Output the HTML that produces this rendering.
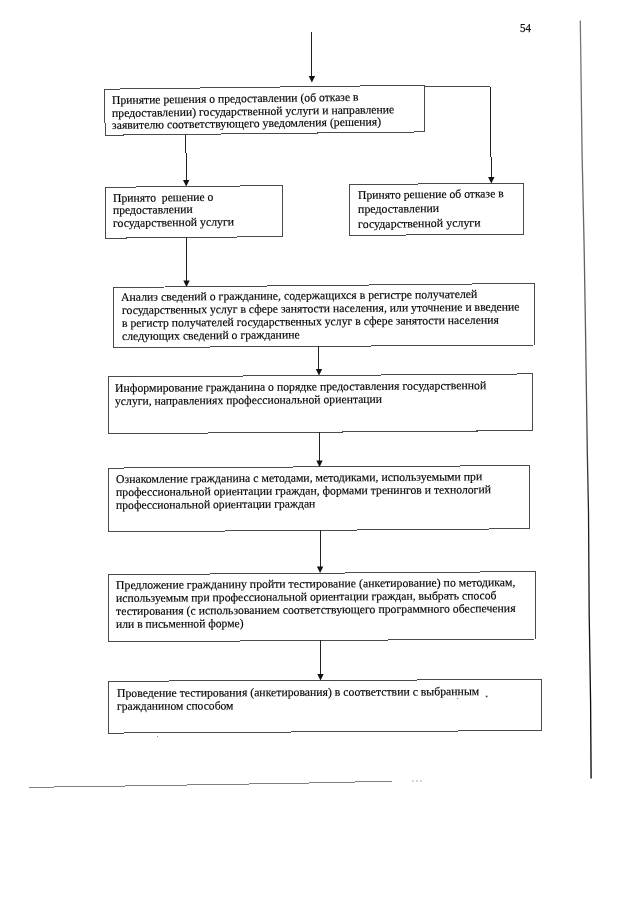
<!DOCTYPE html>
<html><head><meta charset="utf-8"><style>
html,body{margin:0;padding:0;background:#fff;}
body{width:640px;height:905px;position:relative;overflow:hidden;}
#w{position:absolute;left:0;top:0;width:640px;height:905px;filter:grayscale(1);}
.t{position:absolute;font-family:"Liberation Serif",serif;font-size:11.75px;line-height:0;white-space:pre;color:#000;-webkit-text-stroke:0.15px #000;transform-origin:0 0;transform:rotate(-0.8deg);}
.t::before{content:"";}
.pn{position:absolute;font-family:"Liberation Serif",serif;font-size:11.8px;line-height:0;left:520px;top:27.9px;color:#111;-webkit-text-stroke:0.25px #111;transform:scaleX(0.93);transform-origin:0 0;}
svg{position:absolute;left:0;top:0;}
</style></head><body>
<div id="w">
<svg width="640" height="905" viewBox="0 0 640 905">
<polygon points="104.5,89.2 424.6,85.2 424.6,131.9 105.2,135.2" fill="none" stroke="#4a4a4a" stroke-width="1" shape-rendering="crispEdges"/>
<polygon points="105.6,187.3 282.8,185.6 282.8,236.6 105.5,238.2" fill="none" stroke="#4a4a4a" stroke-width="1" shape-rendering="crispEdges"/>
<polygon points="349.8,184.6 523.1,183.1 523.1,234.4 349.8,235.3" fill="none" stroke="#4a4a4a" stroke-width="1" shape-rendering="crispEdges"/>
<polygon points="113.75,287.5 534.6,283.4 534.6,345 113.75,347.6" fill="none" stroke="#4a4a4a" stroke-width="1" shape-rendering="crispEdges"/>
<polygon points="108.1,377 532.3,373.9 532.3,430.6 108.1,433.75" fill="none" stroke="#4a4a4a" stroke-width="1" shape-rendering="crispEdges"/>
<polygon points="108.4,468.1 529.6,465.6 529.6,528.7 108.4,531.9" fill="none" stroke="#4a4a4a" stroke-width="1" shape-rendering="crispEdges"/>
<polygon points="108.75,574.75 535.6,571.6 535.6,639 108.75,641.9" fill="none" stroke="#4a4a4a" stroke-width="1" shape-rendering="crispEdges"/>
<polygon points="108.75,681.25 541.6,679.5 541.6,730.5 108.75,733.1" fill="none" stroke="#4a4a4a" stroke-width="1" shape-rendering="crispEdges"/>
<polyline points="424.6,87 490.1,86.6" fill="none" stroke="#4a4a4a" stroke-width="1" shape-rendering="crispEdges"/>
<line x1="311.7" y1="32" x2="311.9" y2="77.5" stroke="#222" stroke-width="1" shape-rendering="crispEdges"/>
<polygon points="308.7,76.0 315.09999999999997,76.0 311.9,82.5" fill="#111"/>
<line x1="185.9" y1="135" x2="186.2" y2="181.4" stroke="#222" stroke-width="1" shape-rendering="crispEdges"/>
<polygon points="183.0,179.9 189.39999999999998,179.9 186.2,186.4" fill="#111"/>
<line x1="186.4" y1="237" x2="186.5" y2="282" stroke="#222" stroke-width="1" shape-rendering="crispEdges"/>
<polygon points="183.3,280.5 189.7,280.5 186.5,287" fill="#111"/>
<line x1="318.9" y1="346" x2="319.0" y2="370.5" stroke="#222" stroke-width="1" shape-rendering="crispEdges"/>
<polygon points="315.8,369.0 322.2,369.0 319.0,375.5" fill="#111"/>
<line x1="319.4" y1="432" x2="319.5" y2="462" stroke="#222" stroke-width="1" shape-rendering="crispEdges"/>
<polygon points="316.3,460.5 322.7,460.5 319.5,467" fill="#111"/>
<line x1="320.0" y1="530.5" x2="320.1" y2="568" stroke="#222" stroke-width="1" shape-rendering="crispEdges"/>
<polygon points="316.90000000000003,566.5 323.3,566.5 320.1,573" fill="#111"/>
<line x1="320.4" y1="640.5" x2="320.5" y2="675.5" stroke="#222" stroke-width="1" shape-rendering="crispEdges"/>
<polygon points="317.3,674.0 323.7,674.0 320.5,680.5" fill="#111"/>
<line x1="490.1" y1="86.6" x2="491.3" y2="178.5" stroke="#222" stroke-width="1" shape-rendering="crispEdges"/>
<polygon points="488.1,177.0 494.5,177.0 491.3,183.5" fill="#111"/>
<defs><linearGradient id="rg" x1="0" y1="0" x2="0" y2="1"><stop offset="0" stop-color="#777"/><stop offset="0.5" stop-color="#555"/><stop offset="0.65" stop-color="#222"/><stop offset="1" stop-color="#000"/></linearGradient></defs>
<polyline points="580.3,20.6 582.1,155 584.1,245 585.5,330 587.35,455 588.5,512 589.2,615 590.6,702 591.1,778.4" fill="none" stroke="url(#rg)" stroke-width="1.3"/>
<polyline points="29,787.3 88,786.6 200,784.8 300,783.2 392,781.2" fill="none" stroke="#808080" stroke-width="1" shape-rendering="crispEdges"/>
<line x1="412" y1="781" x2="423" y2="781" stroke="#aaa" stroke-width="1" stroke-dasharray="2,2"/>
<circle cx="486.6" cy="696.4" r="0.9" fill="#333"/>
<circle cx="157.5" cy="736.5" r="0.6" fill="#777"/>
<circle cx="457.7" cy="698.6" r="0.6" fill="#666"/>
</svg>
<div class="pn">54</div>
<div class="t" style="left:112.00px;top:100.80px;transform:rotate(-0.75deg) scaleX(0.99)">Принятие решения о предоставлении (об отказе в</div>
<div class="t" style="left:112.00px;top:113.50px;transform:rotate(-0.75deg) scaleX(0.9972)">предоставлении) государственной услуги и направление</div>
<div class="t" style="left:112.00px;top:126.20px;transform:rotate(-0.75deg) scaleX(0.9989)">заявителю соответствующего уведомления (решения)</div>
<div class="t" style="left:113.00px;top:198.50px;transform:rotate(-0.7deg) scaleX(0.9941)">Принято  решение о</div>
<div class="t" style="left:113.00px;top:211.10px;transform:rotate(-0.7deg) scaleX(0.99)">предоставлении</div>
<div class="t" style="left:113.00px;top:223.70px;transform:rotate(-0.7deg) scaleX(1.0042)">государственной услуги</div>
<div class="t" style="left:358.00px;top:195.80px;transform:rotate(-0.7deg) scaleX(0.9915)">Принято решение об отказе в</div>
<div class="t" style="left:358.00px;top:210.40px;transform:rotate(-0.7deg) scaleX(1.0094)">предоставлении</div>
<div class="t" style="left:358.00px;top:225.00px;transform:rotate(-0.7deg) scaleX(1.0167)">государственной услуги</div>
<div class="t" style="left:120.80px;top:297.80px;transform:rotate(-0.5deg) scaleX(1.002)">Анализ сведений о гражданине, содержащихся в регистре получателей</div>
<div class="t" style="left:121.80px;top:310.90px;transform:rotate(-0.5deg) scaleX(0.996)">государственных услуг в сфере занятости населения, или уточнение и введение</div>
<div class="t" style="left:121.80px;top:324.00px;transform:rotate(-0.5deg) scaleX(0.9963)">в регистр получателей государственных услуг в сфере занятости населения</div>
<div class="t" style="left:121.80px;top:337.10px;transform:rotate(-0.5deg) scaleX(0.9992)">следующих сведений о гражданине</div>
<div class="t" style="left:115.20px;top:388.70px;transform:rotate(-0.45deg) scaleX(1.0004)">Информирование гражданина о порядке предоставления государственной</div>
<div class="t" style="left:115.20px;top:401.50px;transform:rotate(-0.45deg) scaleX(0.994)">услуги, направлениях профессиональной ориентации</div>
<div class="t" style="left:116.00px;top:480.00px;transform:rotate(-0.42deg) scaleX(1.0027)">Ознакомление гражданина с методами, методиками, используемыми при</div>
<div class="t" style="left:116.00px;top:492.80px;transform:rotate(-0.42deg) scaleX(0.9967)">профессиональной ориентации граждан, формами тренингов и технологий</div>
<div class="t" style="left:116.00px;top:505.60px;transform:rotate(-0.42deg) scaleX(0.99)">профессиональной ориентации граждан</div>
<div class="t" style="left:116.00px;top:586.00px;transform:rotate(-0.42deg) scaleX(1.0013)">Предложение гражданину пройти тестирование (анкетирование) по методикам,</div>
<div class="t" style="left:116.00px;top:599.00px;transform:rotate(-0.42deg) scaleX(0.9941)">используемым при профессиональной ориентации граждан, выбрать способ</div>
<div class="t" style="left:116.00px;top:612.00px;transform:rotate(-0.42deg) scaleX(1.0006)">тестирования (с использованием соответствующего программного обеспечения</div>
<div class="t" style="left:116.00px;top:625.00px;transform:rotate(-0.42deg) scaleX(0.9884)">или в письменной форме)</div>
<div class="t" style="left:116.80px;top:693.50px;transform:rotate(-0.3deg) scaleX(0.9997)">Проведение тестирования (анкетирования) в соответствии с выбранным</div>
<div class="t" style="left:116.80px;top:706.50px;transform:rotate(-0.3deg) scaleX(0.9873)">гражданином способом</div>
</div>
</body></html>
